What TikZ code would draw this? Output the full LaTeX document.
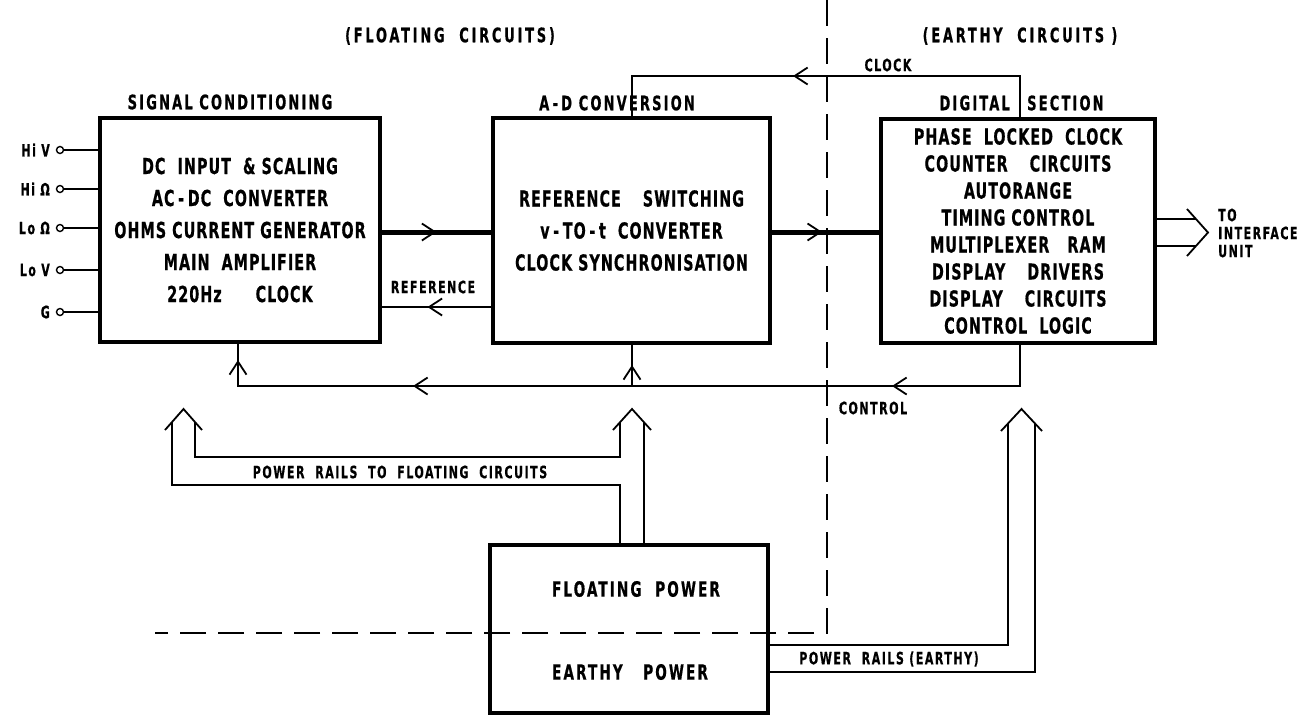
\documentclass[tikz,border=0pt]{standalone}
\usepackage{fontspec}
\setmainfont{DejaVu Sans Condensed}[FakeStretch=0.72, BoldFeatures={FakeBold=0.6}]
\usetikzlibrary{arrows.meta,decorations.markings}
\tikzset{
  blk/.style={draw, line width=3.5pt, anchor=north west, outer sep=0pt, inner sep=0pt, align=center},
  txtA/.style={font=\bfseries\fontsize{22}{32}\selectfont\addfontfeature{LetterSpace=5}},
  txtD/.style={font=\bfseries\fontsize{22}{27}\selectfont\addfontfeature{LetterSpace=5}},
  ttl/.style={font=\bfseries\fontsize{20}{22}\selectfont\addfontfeature{LetterSpace=11}, inner sep=0pt},
  big/.style={font=\bfseries\fontsize{20}{24}\selectfont\addfontfeature{LetterSpace=14}, inner sep=0pt},
  pwt/.style={font=\bfseries\fontsize{21}{24}\selectfont\addfontfeature{LetterSpace=10}, inner sep=0pt},
  lbl/.style={font=\bfseries\fontsize{17}{18}\selectfont\addfontfeature{LetterSpace=9}, inner sep=0pt},
  wire/.style={line width=1.8pt},
  bus/.style={line width=5pt},
  dsh/.style={line width=2pt, dash pattern=on 26pt off 12pt},
  term/.style={circle, draw, line width=1.4pt, inner sep=0pt, minimum size=7pt, fill=white},
  barb/.style={postaction={decorate}, decoration={markings,
      mark=at position #1 with {\arrow{Straight Barb[length=13pt,width=17pt,line width=1.8pt]}}}},
  barbbb/.style n args={3}{postaction={decorate}, decoration={markings,
      mark=at position #1 with {\arrow{Straight Barb[length=13pt,width=17pt,line width=1.8pt]}},
      mark=at position #2 with {\arrow{Straight Barb[length=13pt,width=17pt,line width=1.8pt]}},
      mark=at position #3 with {\arrow{Straight Barb[length=13pt,width=17pt,line width=1.8pt]}}}},
}
\begin{document}
\begin{tikzpicture}[x=1pt,y=-1pt]
\useasboundingbox (0,0) rectangle (1308,716);

% boxes
\node[blk, minimum width=280pt, minimum height=224pt, txtA] (sc) at (100,118)
  {DC\ \ INPUT\ \ \&\ SCALING\\AC\,-\,DC\ \ CONVERTER\\OHMS CURRENT GENERATOR\\MAIN\ \ AMPLIFIER\\220Hz\hspace{34pt}CLOCK};
\node[blk, minimum width=277pt, minimum height=225pt, txtA] (ad) at (493,118)
  {REFERENCE\quad SWITCHING\\v\,-\,TO\,-\,t\ \ CONVERTER\\CLOCK SYNCHRONISATION};
\node[blk, minimum width=274pt, minimum height=224pt, txtD] (dig) at (881,119)
  {PHASE\ \ LOCKED\ \ CLOCK\\COUNTER\quad CIRCUITS\\AUTORANGE\\TIMING CONTROL\\MULTIPLEXER\ \ \ RAM\\DISPLAY\quad DRIVERS\\DISPLAY\quad CIRCUITS\\CONTROL\ \ LOGIC};
\node[blk, minimum width=278pt, minimum height=168pt] (pw) at (490,545) {};
\node[pwt] (pwF) at (636,589) {FLOATING\ \ POWER};
\node[pwt] (pwE) at (630,672) {EARTHY\ \ \ POWER};

% titles
\node[big] (tF) at (450,36) {(FLOATING\ \ CIRCUITS)};
\node[big] (tE) at (1020,36) {(EARTHY\ \ CIRCUITS )};
\node[ttl] (tSC) at (230,102) {SIGNAL CONDITIONING};
\node[ttl] (tAD) at (617,103) {A\,-\,D CONVERSION};
\node[ttl, anchor=east] (tD1) at (1010,103) {DIGITAL};
\node[ttl, anchor=west] (tD2) at (1027,103) {SECTION};

% dashed boundary
\coordinate (dtop) at (827,0);
\coordinate (dcor) at (827,633);
\coordinate (dend) at (155,633);
\draw[dsh] (dtop) -- (dcor) -- (dend);

% clock
\coordinate (ck1) at (1020,76);
\coordinate (ck2) at (632,76);
\draw[wire, barb=270pt] (dig.north -| ck1) -- (ck1) -- (ck2) -- (ad.north -| ck2);
\node[lbl] (lclk) at (888,65) {CLOCK};

% buses
\coordinate (busy) at (0,232);
\draw[bus, barb=0.5] (sc.east |- busy) -- (ad.west |- busy);
\draw[bus, barb=0.47] (ad.east |- busy) -- (dig.west |- busy);

% reference
\coordinate (refy) at (0,307);
\draw[wire, barb=0.58] (ad.west |- refy) -- (sc.east |- refy);
\node[lbl] (lref) at (433,287) {REFERENCE};

% control
\coordinate (ctR) at (1020,386);
\coordinate (ctL) at (238,386);
\coordinate (ctM) at (632,386);
\draw[wire, barbbb={171pt}{650pt}{851pt}] (dig.south -| ctR) -- (ctR) -- (ctL) -- (sc.south -| ctL);
\draw[wire, barb=21pt] (ctM) -- (ad.south -| ctM);
\node[lbl] (lctl) at (873,408) {CONTROL};

% inputs
\foreach \n/\t/\y in {a/Hi V/150, b/Hi Ω/189, c/Lo Ω/228, d/Lo V/270, e/G/312} {
  \node[lbl, anchor=east] (tx\n) at (50,\y) {\t};
  \draw[wire] (60,\y) coordinate (p\n) -- (p\n -| sc.west);
  \node[term] (in\n) at (p\n) {};
}

% power rails to floating circuits
\draw[wire] (620,545) -- (620,485) -- (172,485) -- (172,422);
\draw[wire] (195,422) -- (195,457) -- (620,457) -- (620,422);
\draw[wire] (644,545) -- (644,422);
\draw[wire] (165,430) -- (183.5,409) -- (202,430);
\draw[wire] (613,430) -- (632,409) -- (651,430);
\node[lbl] (lprf) at (400,472) {POWER\ \ RAILS\ \ TO\ \ FLOATING\ \ CIRCUITS};

% earthy rails
\draw[wire] (768,645) -- (1008,645) -- (1008,423);
\draw[wire] (768,672) -- (1035,672) -- (1035,423);
\draw[wire] (1001,431) -- (1021.5,409) -- (1042,431);
\node[lbl] (lpre) at (889,659) {POWER\ \ RAILS (EARTHY)};

% to interface
\draw[wire] (1155,219) -- (1196,219);
\draw[wire] (1155,246) -- (1196,246);
\draw[wire] (1187,209) -- (1208,232.5) -- (1187,256);
\node[lbl, anchor=west, align=left] (lifc) at (1218,233) {TO\\INTERFACE\\UNIT};
\end{tikzpicture}
\end{document}
